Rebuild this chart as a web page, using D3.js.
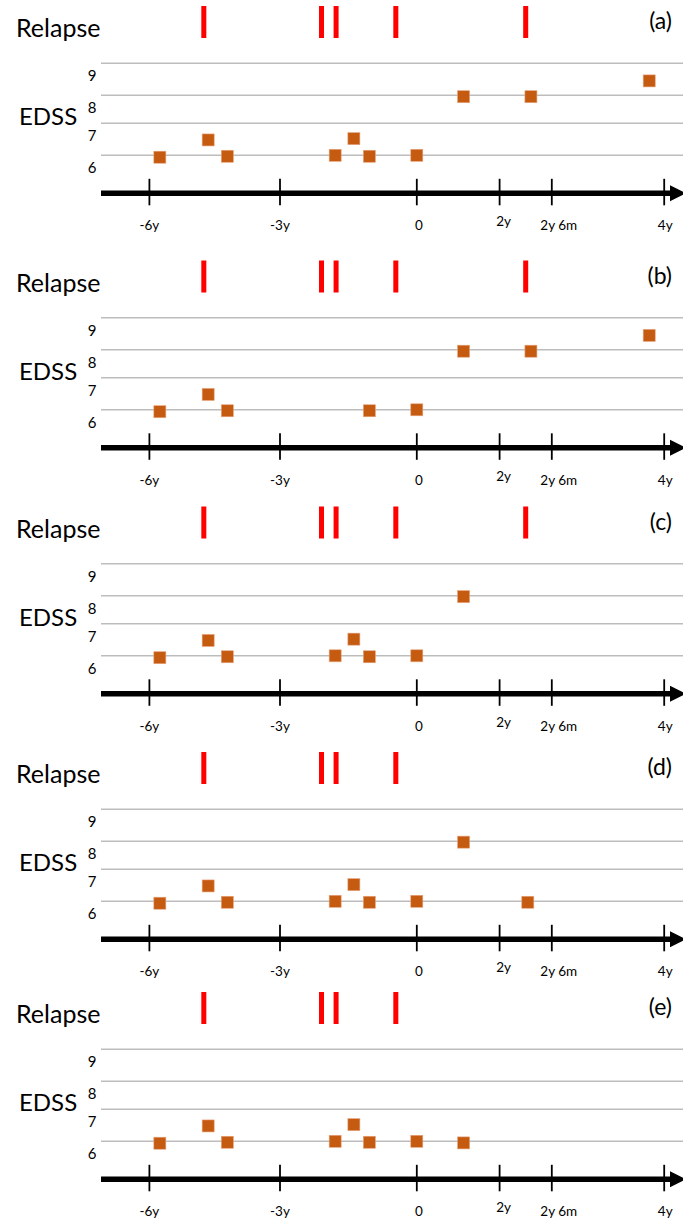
<!DOCTYPE html>
<html>
<head>
<meta charset="utf-8">
<script src="https://cdn.jsdelivr.net/npm/d3@7"></script>
<style>
  html, body { margin: 0; padding: 0; background: #fff; }
  svg { display: block; }
  text { font-family: Lato, "Liberation Sans", sans-serif; fill: #000; }
</style>
</head>
<body>
<svg id="chart" width="683" height="1220"></svg>
<script>
// ---------- data ----------
const timeTicks = [-6, -3, 0, 2, 2.5, 4];              // years
const timeTickLabels = ["-6y", "-3y", "0", "2y", "2y 6m", "4y"];
const edssTicks = [6, 7, 8, 9];
const panelLabels = ["(a)", "(b)", "(c)", "(d)", "(e)"];

// relapse times (years) per panel
const relapsesA = [-4.75, -2.09, -1.77, -0.46, 2.25];
const relapsesB = [-4.75, -2.09, -1.77, -0.46, 2.25];
const relapsesC = [-4.75, -2.09, -1.77, -0.46, 2.25];
const relapsesD = [-4.75, -2.09, -1.77, -0.46];
const relapsesE = [-4.75, -2.09, -1.77, -0.46];

// EDSS assessments per panel: time (years) and score
const edssTimeA = [-5.76, -4.65, -4.21, -1.79, -1.38, -1.04, 0, 1.13, 2.30, 3.80];
const edssValA  = [5.94, 6.48, 5.97, 6.0, 6.52, 5.97, 6.0, 7.95, 7.95, 8.45];
const edssTimeB = [-5.76, -4.65, -4.21, -1.04, 0, 1.13, 2.30, 3.80];
const edssValB  = [5.94, 6.48, 5.97, 5.97, 6.0, 7.95, 7.95, 8.45];
const edssTimeC = [-5.76, -4.65, -4.21, -1.79, -1.38, -1.04, 0, 1.13];
const edssValC  = [5.94, 6.48, 5.97, 6.0, 6.52, 5.97, 6.0, 7.97];
const edssTimeD = [-5.76, -4.65, -4.21, -1.79, -1.38, -1.04, 0, 1.13, 2.27];
const edssValD  = [5.94, 6.48, 5.97, 6.0, 6.52, 5.97, 6.0, 7.97, 5.97];
const edssTimeE = [-5.76, -4.65, -4.21, -1.79, -1.38, -1.04, 0, 1.13];
const edssValE  = [5.94, 6.48, 5.97, 6.0, 6.52, 5.97, 6.0, 5.95];

const panels = [
  { label: panelLabels[0], relapses: relapsesA, t: edssTimeA, v: edssValA },
  { label: panelLabels[1], relapses: relapsesB, t: edssTimeB, v: edssValB },
  { label: panelLabels[2], relapses: relapsesC, t: edssTimeC, v: edssValC },
  { label: panelLabels[3], relapses: relapsesD, t: edssTimeD, v: edssValD },
  { label: panelLabels[4], relapses: relapsesE, t: edssTimeE, v: edssValE }
];

// ---------- layout ----------
const panelTop = [0, 254.5, 500.5, 746, 986];
const svg = d3.select("#chart");

// schematic (piecewise) time axis
const x = d3.scaleLinear()
  .domain(timeTicks)
  .range([149.4, 280, 416.8, 499.6, 551.8, 664.2]);

// EDSS axis (schematic spacing)
const y = d3.scaleLinear()
  .domain(edssTicks)
  .range([155.3, 123.3, 95.3, 63.3]);

const xLabelNudge = { "-6y": [0, 0], "-3y": [0, 0], "0": [2, 0], "2y": [4, -4], "2y 6m": [7, 0], "4y": [1, 0] };
const axisY = 193.3;
const gridLeft = 101, gridRight = 683;
const sq = 12;

panels.forEach((p, i) => {
  const g = svg.append("g").attr("transform", `translate(0,${panelTop[i]})`);

  // titles
  g.append("text").attr("x", 16).attr("y", 37).attr("font-size", 25).text("Relapse");
  g.append("text").attr("x", 19).attr("y", 125).attr("font-size", 24).text("EDSS");
  g.append("text").attr("x", 672).attr("y", 29).attr("font-size", 23)
    .attr("text-anchor", "end").text(p.label);

  // gridlines
  g.selectAll("line.grid").data(edssTicks).join("line")
    .attr("class", "grid")
    .attr("x1", gridLeft).attr("x2", gridRight)
    .attr("y1", d => y(d)).attr("y2", d => y(d))
    .attr("stroke", "#bdbdbd").attr("stroke-width", 1.5);

  // EDSS tick labels (placed just below each line)
  g.selectAll("text.ylab").data(edssTicks).join("text")
    .attr("class", "ylab")
    .attr("x", 92).attr("y", d => y(d) + 18)
    .attr("text-anchor", "middle").attr("font-size", 15)
    .text(d => d);

  // time axis: thick line + arrow
  g.append("line")
    .attr("x1", gridLeft).attr("x2", 674)
    .attr("y1", axisY).attr("y2", axisY)
    .attr("stroke", "#000").attr("stroke-width", 5.5);
  g.append("path")
    .attr("d", `M670,${axisY - 8} L686,${axisY} L670,${axisY + 8} Z`)
    .attr("fill", "#000");

  // ticks
  g.selectAll("line.tick").data(timeTicks).join("line")
    .attr("class", "tick")
    .attr("x1", d => x(d)).attr("x2", d => x(d))
    .attr("y1", axisY - 14.5).attr("y2", axisY + 12)
    .attr("stroke", "#000").attr("stroke-width", 1.8);

  g.selectAll("text.xlab").data(timeTickLabels).join("text")
    .attr("class", "xlab")
    .attr("x", (d, k) => x(timeTicks[k]) + xLabelNudge[d][0])
    .attr("y", (d) => 230 + xLabelNudge[d][1])
    .attr("text-anchor", "middle").attr("font-size", 13.5)
    .text(d => d);

  // relapse bars
  g.selectAll("rect.relapse").data(p.relapses).join("rect")
    .attr("class", "relapse")
    .attr("x", d => x(d) - 2.5).attr("y", 6)
    .attr("width", 5).attr("height", 32)
    .attr("fill", "#ff0000");

  // EDSS squares
  g.selectAll("rect.edss").data(p.t.map((t, k) => [t, p.v[k]])).join("rect")
    .attr("class", "edss")
    .attr("x", d => x(d[0]) - sq / 2).attr("y", d => y(d[1]) - sq / 2)
    .attr("width", sq).attr("height", sq)
    .attr("fill", "#c55a11")
    .attr("stroke", "#e8a27a").attr("stroke-width", 0.6);
});
</script>
</body>
</html>
